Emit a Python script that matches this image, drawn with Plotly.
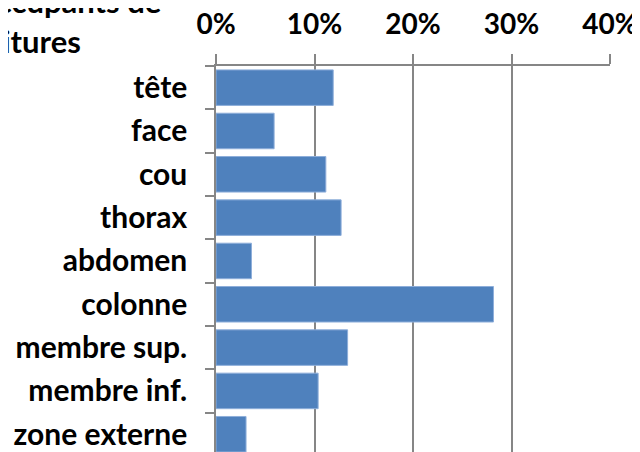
import plotly.graph_objects as go

categories = ["tête", "face", "cou", "thorax", "abdomen", "colonne",
              "membre sup.", "membre inf.", "zone externe"]
values = [0.119, 0.059, 0.1115, 0.127, 0.036, 0.2817, 0.1336, 0.1037, 0.0305]
tick_vals = [0, 0.1, 0.2, 0.3, 0.4]
tick_text = ["0%", "10%", "20%", "30%", "40%"]

FONT = "Lato"
GREY = "#868686"

fig = go.Figure(go.Bar(
    x=values, y=categories, orientation="h",
    marker=dict(color="#4F81BD", line=dict(color="#8EAEDA", width=1)),
))

# page body has an 8px margin, so the figure is a bit smaller than the window
fig.update_layout(
    width=632, height=444,
    margin=dict(l=208, r=30, t=58, b=0),
    paper_bgcolor="white", plot_bgcolor="white",
    bargap=0.18, showlegend=False,
    font=dict(family=FONT, size=24, color="black"),
)

fig.update_xaxes(
    side="top", range=[0, 0.4], tickvals=tick_vals, ticktext=tick_text,
    showgrid=True, gridcolor=GREY, gridwidth=1.5,
    showline=True, linecolor=GREY, linewidth=1.5,
    ticks="outside", ticklen=10, tickcolor=GREY, tickwidth=1.5,
    tickfont=dict(family=FONT, size=28, weight="bold"),
    ticklabelstandoff=9, zeroline=False, automargin=False,
)

fig.update_yaxes(
    categoryorder="array", categoryarray=categories,
    range=[8.41, -0.5], showgrid=False,
    showline=True, linecolor=GREY, linewidth=1.5,
    ticks="outside", tickson="boundaries", ticklen=9, tickcolor=GREY, tickwidth=1.5,
    tickfont=dict(family=FONT, size=30, weight="bold"),
    ticklabelstandoff=21, automargin=False,
)

# title, cut by the edge of the picture
fig.add_annotation(text="Occupants de", xref="paper", yref="paper",
                   x=(155 - 208) / 394, y=1 + 44 / 386,
                   xanchor="right", yanchor="bottom", showarrow=False,
                   font=dict(family=FONT, size=31, weight="bold"))
fig.add_annotation(text="voitures", xref="paper", yref="paper",
                   x=(75 - 208) / 394, y=1 + 4 / 386,
                   xanchor="right", yanchor="bottom", showarrow=False,
                   font=dict(family=FONT, size=31, weight="bold"))

fig.write_html("out.html")
